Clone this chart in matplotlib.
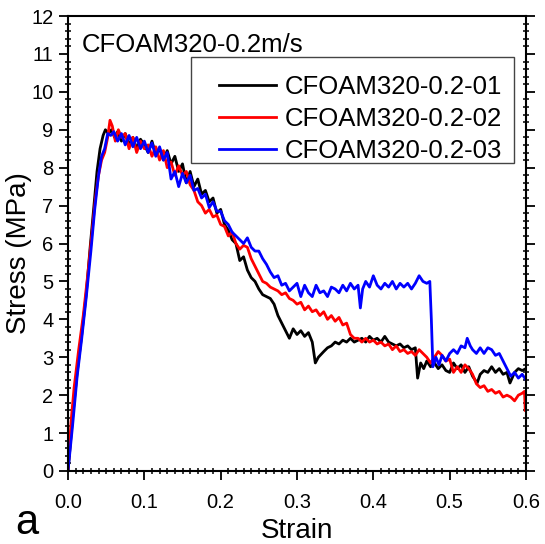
import matplotlib
matplotlib.use("Agg")
import matplotlib.pyplot as plt
from matplotlib.ticker import MultipleLocator
from matplotlib.patches import Rectangle

plt.rcParams['font.family'] = ['Liberation Sans', 'DejaVu Sans']

labels = ["CFOAM320-0.2-01", "CFOAM320-0.2-02", "CFOAM320-0.2-03"]
colors = ["#000000", "#ff0000", "#0000ff"]

strain_01 = [0, 0.006, 0.012, 0.018, 0.024, 0.029, 0.034, 0.038, 0.042, 0.046, 0.049, 0.053, 0.057,
             0.061, 0.065, 0.07, 0.075, 0.08, 0.085, 0.09, 0.095, 0.1, 0.105, 0.11, 0.115, 0.12, 0.125,
             0.13, 0.135, 0.14, 0.145, 0.15, 0.155, 0.16, 0.165, 0.17, 0.175, 0.18, 0.185, 0.19, 0.195,
             0.2, 0.205, 0.21, 0.215, 0.22, 0.225, 0.23, 0.235, 0.24, 0.245, 0.25, 0.255, 0.26, 0.265,
             0.27, 0.275, 0.28, 0.285, 0.29, 0.295, 0.3, 0.305, 0.31, 0.315, 0.32, 0.324, 0.328, 0.335,
             0.34, 0.345, 0.35, 0.355, 0.36, 0.365, 0.37, 0.375, 0.38, 0.385, 0.39, 0.395, 0.4, 0.405,
             0.41, 0.415, 0.42, 0.425, 0.43, 0.435, 0.44, 0.445, 0.45, 0.455, 0.458, 0.462, 0.466, 0.47,
             0.475, 0.48, 0.485, 0.49, 0.495, 0.5, 0.505, 0.51, 0.515, 0.52, 0.525, 0.53, 0.536, 0.54,
             0.545, 0.55, 0.555, 0.56, 0.565, 0.57, 0.575, 0.579, 0.585, 0.59, 0.595, 0.6]
stress_01 = [0, 1.4, 2.6, 3.6, 4.7, 5.9, 7.0, 7.9, 8.5, 8.85, 9.0, 8.9, 9.0,
             8.8, 8.95, 8.7, 8.9, 8.6, 8.8, 8.5, 8.75, 8.6, 8.4, 8.7, 8.35, 8.5, 8.2,
             8.45, 8.1, 8.3, 7.9, 8.1, 7.6, 7.9, 7.5, 7.7, 7.3, 7.4, 7.1, 7.2, 6.8,
             6.9, 6.5, 6.35, 6.1, 6.0, 5.55, 5.65, 5.3, 5.1, 5.0, 4.8, 4.65, 4.6, 4.55,
             4.4, 4.1, 3.9, 3.7, 3.5, 3.75, 3.6, 3.7, 3.55, 3.65, 3.4, 2.85, 3.0, 3.15,
             3.25, 3.3, 3.4, 3.35, 3.45, 3.4, 3.5, 3.4, 3.45, 3.5, 3.4, 3.55, 3.45, 3.5,
             3.4, 3.55, 3.4, 3.35, 3.3, 3.35, 3.25, 3.3, 3.2, 3.25, 2.45, 2.85, 2.7, 2.9,
             2.75, 2.85, 2.7, 2.8, 2.65, 2.6, 2.85, 2.7, 2.8, 2.6, 2.75, 2.5, 2.32, 2.55,
             2.65, 2.6, 2.75, 2.6, 2.7, 2.55, 2.6, 2.32, 2.6, 2.7, 2.65, 2.7]

strain_02 = [0, 0.004, 0.008, 0.014, 0.02, 0.026, 0.031, 0.036, 0.04, 0.044, 0.048, 0.052, 0.055,
             0.058, 0.062, 0.066, 0.07, 0.075, 0.08, 0.085, 0.09, 0.095, 0.1, 0.105, 0.11, 0.115,
             0.12, 0.125, 0.13, 0.135, 0.14, 0.145, 0.15, 0.155, 0.16, 0.165, 0.17, 0.175, 0.18,
             0.185, 0.19, 0.195, 0.2, 0.205, 0.21, 0.215, 0.22, 0.225, 0.23, 0.235, 0.24, 0.245,
             0.25, 0.255, 0.26, 0.265, 0.27, 0.275, 0.28, 0.285, 0.29, 0.295, 0.3, 0.305, 0.31,
             0.315, 0.32, 0.325, 0.33, 0.335, 0.34, 0.345, 0.35, 0.355, 0.36, 0.365, 0.37, 0.375,
             0.38, 0.385, 0.39, 0.395, 0.4, 0.405, 0.41, 0.415, 0.42, 0.425, 0.43, 0.435, 0.44,
             0.445, 0.45, 0.455, 0.46, 0.465, 0.47, 0.475, 0.48, 0.485, 0.49, 0.495, 0.5, 0.505,
             0.51, 0.515, 0.52, 0.525, 0.53, 0.535, 0.54, 0.545, 0.55, 0.555, 0.56, 0.565, 0.57,
             0.575, 0.58, 0.585, 0.59, 0.595, 0.598, 0.599]
stress_02 = [0, 1.3, 2.2, 3.2, 4.1, 5.2, 6.2, 7.2, 7.8, 8.2, 8.4, 8.8, 9.25,
             9.1, 8.7, 9.0, 8.8, 8.9, 8.5, 8.8, 8.4, 8.7, 8.5, 8.6, 8.3, 8.55,
             8.2, 8.45, 8.0, 8.15, 7.8, 8.05, 7.8, 7.9, 7.55, 7.4, 7.1, 7.0, 6.8,
             6.9, 6.7, 6.75, 6.5, 6.45, 6.2, 6.3, 6.0, 5.85, 5.95, 5.9, 5.6, 5.4,
             5.2, 5.0, 4.95, 4.85, 4.8, 4.75, 4.65, 4.7, 4.55, 4.5, 4.4, 4.45, 4.25,
             4.35, 4.2, 4.25, 4.1, 4.2, 4.0, 4.1, 3.95, 4.05, 3.85, 3.9, 3.6, 3.5,
             3.5, 3.4, 3.5, 3.4, 3.45, 3.35, 3.4, 3.3, 3.35, 3.2, 3.3, 3.15, 3.2,
             3.1, 3.15, 3.05, 3.2, 3.1, 3.0, 2.85, 3.0, 3.15, 3.05, 2.9, 2.95, 2.6,
             2.75, 2.6, 2.8, 2.7, 2.55, 2.3, 2.2, 2.25, 2.1, 2.15, 2.05, 2.1, 1.95,
             2.0, 1.95, 1.85, 2.0, 2.05, 2.1, 1.6]

strain_03 = [0, 0.006, 0.012, 0.018, 0.024, 0.03, 0.035, 0.04, 0.044, 0.048, 0.052, 0.056, 0.06,
             0.065, 0.07, 0.075, 0.08, 0.085, 0.09, 0.095, 0.1, 0.105, 0.11, 0.115, 0.12, 0.125,
             0.13, 0.135, 0.14, 0.145, 0.15, 0.155, 0.16, 0.165, 0.17, 0.175, 0.18, 0.185, 0.19,
             0.195, 0.2, 0.205, 0.21, 0.215, 0.22, 0.225, 0.23, 0.235, 0.24, 0.245, 0.25, 0.255,
             0.26, 0.265, 0.27, 0.275, 0.28, 0.285, 0.29, 0.295, 0.3, 0.305, 0.31, 0.315, 0.32,
             0.325, 0.33, 0.335, 0.34, 0.345, 0.35, 0.355, 0.36, 0.365, 0.37, 0.375, 0.38, 0.383,
             0.386, 0.39, 0.395, 0.4, 0.405, 0.41, 0.415, 0.42, 0.425, 0.43, 0.435, 0.44, 0.445,
             0.45, 0.455, 0.46, 0.465, 0.47, 0.474, 0.476, 0.478, 0.482, 0.486, 0.49, 0.495, 0.5,
             0.505, 0.51, 0.515, 0.52, 0.523, 0.527, 0.53, 0.535, 0.54, 0.545, 0.55, 0.555, 0.56,
             0.565, 0.57, 0.575, 0.58, 0.585, 0.59, 0.595, 0.6]
stress_03 = [0, 1.2, 2.5, 3.5, 4.6, 5.8, 6.9, 7.8, 8.3, 8.5, 8.9, 8.85, 8.95,
             8.7, 8.9, 8.6, 8.85, 8.55, 8.8, 8.5, 8.7, 8.4, 8.65, 8.3, 8.55, 8.2,
             8.4, 7.7, 7.9, 7.5, 7.85, 7.6, 7.8, 7.4, 7.45, 7.2, 7.3, 6.95, 7.1,
             6.85, 6.85, 6.6, 6.5, 6.3, 6.2, 6.1, 6.0, 6.15, 5.9, 5.8, 5.8, 5.6,
             5.45, 5.25, 5.1, 5.15, 4.9, 4.95, 4.75, 4.85, 4.95, 4.6, 4.9, 4.7, 4.6,
             4.9, 4.7, 4.75, 4.6, 4.85, 4.8, 4.7, 4.9, 4.75, 4.95, 4.8, 4.9, 4.3,
             4.8, 5.0, 4.85, 5.15, 4.9, 4.8, 4.95, 4.85, 5.0, 4.8, 4.95, 4.85, 4.95,
             4.8, 4.95, 5.15, 5.0, 4.95, 5.0, 4.0, 2.75, 3.0, 2.8, 3.05, 2.9, 3.1,
             3.2, 3.1, 3.3, 3.25, 3.5, 3.3, 3.2, 3.1, 3.25, 3.1, 3.25, 3.2, 3.05,
             3.1, 2.9, 2.7, 2.5, 2.6, 2.45, 2.55, 2.4]

series = [(strain_01, stress_01), (strain_02, stress_02), (strain_03, stress_03)]

fig = plt.figure(figsize=(5.45, 5.44), dpi=100)
ax = fig.add_axes([68/545, 1-471/544, 458/545, 455/544])

for (sx, sy), lab, col in zip(series, labels, colors):
    ax.plot(sx, sy, color=col, lw=2.0, label=lab)

ax.set_xlim(0, 0.6)
ax.set_ylim(0, 12)
ax.xaxis.set_major_locator(MultipleLocator(0.1))
ax.xaxis.set_minor_locator(MultipleLocator(0.01))
ax.yaxis.set_major_locator(MultipleLocator(1))
ax.yaxis.set_minor_locator(MultipleLocator(0.2))
ax.set_xticks([0, 0.1, 0.2, 0.3, 0.4, 0.5, 0.6])
ax.set_xticklabels(["0.0", "0.1", "0.2", "0.3", "0.4", "0.5", "0.6"])

for s in ax.spines.values():
    s.set_linewidth(1.5)
ax.tick_params(which='major', direction='out', length=6.5, width=1.3, labelsize=14.5, pad=4,
               left=True, bottom=True, right=False, top=False)
ax.tick_params(axis='x', which='major', pad=9.5)
ax.tick_params(which='minor', direction='inout', length=5, width=1.1,
               left=True, bottom=True, right=True, top=False)
ax.tick_params(axis='y', which='major', right=True)
ax.yaxis.set_tick_params(which='major', labelright=False)

ax.set_xlabel("Strain", fontsize=20, labelpad=4)
ax.set_ylabel("Stress (MPa)", fontsize=20)
ax.yaxis.set_label_coords(-0.078, 0.479)

ax.text(0.031, 0.921, "CFOAM320-0.2m/s", transform=ax.transAxes, fontsize=18.5,
        ha='left', va='baseline')

# legend frame drawn as a box like the original
ax.add_patch(Rectangle((0.2686, 0.677), 0.7052, 0.233, transform=ax.transAxes,
                       facecolor='white', edgecolor='#444444', lw=1.0, zorder=4))
leg = ax.legend(loc='upper left', bbox_to_anchor=(0.3297, 0.870), fontsize=18.5,
                frameon=False, handlelength=2.2, handletextpad=0.35, borderpad=0.0,
                labelspacing=0.3, borderaxespad=0)
leg.set_zorder(5)

fig.text(15/545, 1-534/544, "a", fontsize=30, ha='left', va='baseline')

fig.savefig("out.png", dpi=100)
